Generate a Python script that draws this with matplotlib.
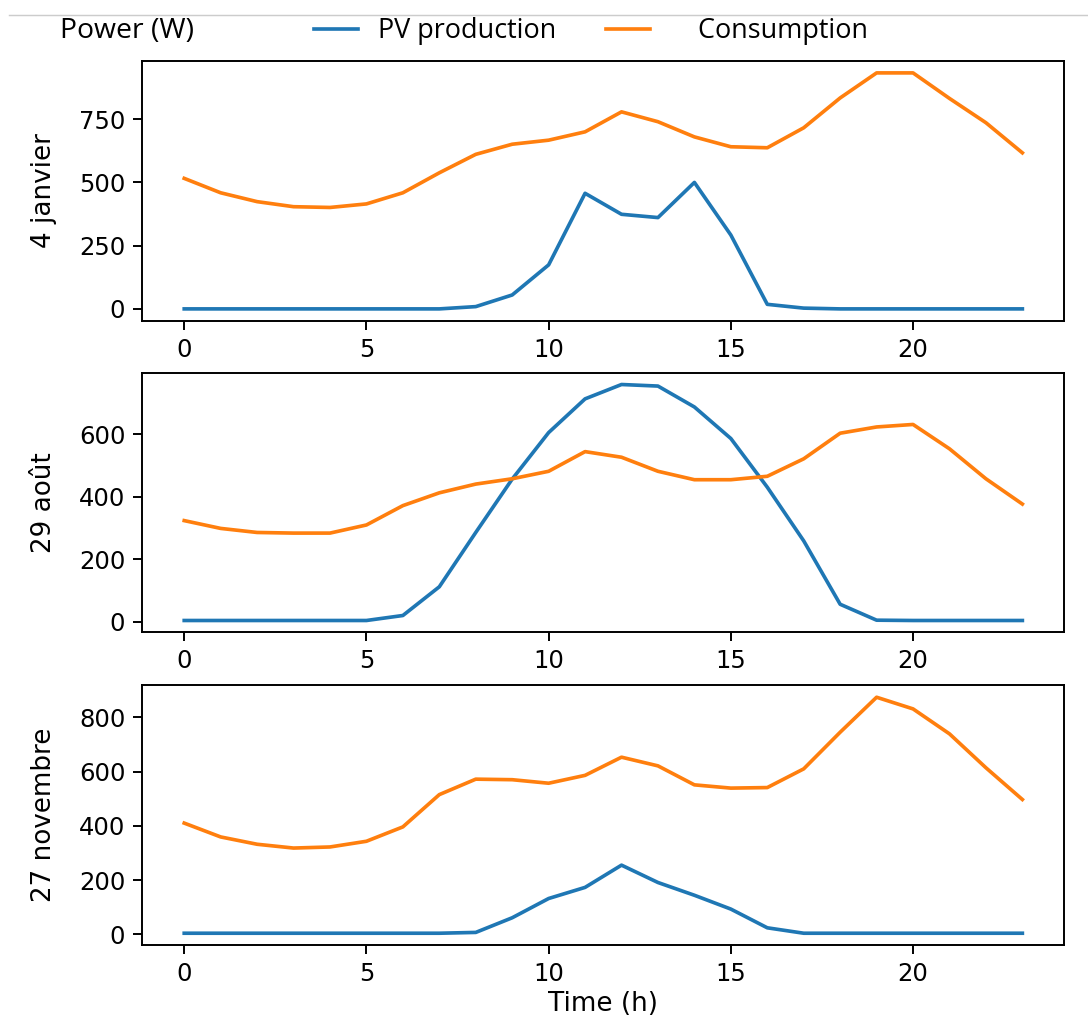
import numpy as np
import matplotlib.pyplot as plt
from matplotlib.lines import Line2D

plt.rcParams['font.family'] = ['DejaVu Sans']

hours = list(range(24))
days = ['4 janvier', '29 août', '27 novembre']

pv_jan = [0, 0, 0, 0, 0, 0, 0, 0, 9, 55, 174, 457, 374, 361, 500, 292, 18, 3, 0, 0, 0, 0, 0, 0]
cons_jan = [516, 459, 424, 404, 401, 415, 459, 538, 611, 651, 667, 700, 779, 740, 680, 641, 637, 716, 834, 933, 933, 832, 736, 617]

pv_aug = [4, 4, 4, 4, 4, 4, 20, 112, 286, 457, 606, 714, 760, 755, 688, 587, 431, 259, 56, 5, 4, 4, 4, 4]
cons_aug = [324, 299, 286, 284, 284, 310, 372, 413, 441, 458, 482, 545, 527, 482, 455, 455, 466, 522, 604, 624, 632, 554, 458, 377]

pv_nov = [4, 4, 4, 4, 4, 4, 4, 4, 7, 61, 132, 173, 255, 191, 144, 93, 24, 4, 4, 4, 4, 4, 4, 4]
cons_nov = [410, 359, 332, 318, 322, 343, 396, 515, 572, 570, 557, 586, 653, 621, 551, 539, 541, 610, 745, 874, 831, 739, 614, 497]

pv = [pv_jan, pv_aug, pv_nov]
cons = [cons_jan, cons_aug, cons_nov]

dpi = 175
fig = plt.figure(figsize=(1088 / dpi, 1020 / dpi), dpi=dpi)

bottoms = [0.6856, 0.3801, 0.0735]
axes = []
for i in range(3):
    ax = fig.add_axes([0.1308, bottoms[i], 0.8474, 0.2545])
    l1, = ax.plot(hours, pv[i], color='tab:blue', label='PV production')
    l2, = ax.plot(hours, cons[i], color='tab:orange', label='Consumption')
    ax.set_ylabel(days[i], fontsize=10.8, labelpad=9)
    axes.append(ax)

axes[0].set_yticks([0, 250, 500, 750])
axes[2].set_xlabel('Time (h)', fontsize=10.8, labelpad=2)
fig.align_ylabels(axes)

# header row
fig.text(60 / 1088, 1 - 31 / 1020, 'Power (W)', family='Open Sans', fontsize=11.7,
         va='center', ha='left')
fig.legend([l1, l2], ['PV production', '    Consumption'], loc='center left',
           bbox_to_anchor=(0.266, 1 - 31 / 1020), ncol=2, frameon=False,
           prop={'family': 'Open Sans', 'size': 11.1},
           handlelength=1.65, handletextpad=0.72, columnspacing=1.85)

fig.add_artist(Line2D([9 / 1088, 1], [1 - 15 / 1020] * 2, color='#cccccc', lw=0.6))

fig.savefig('out.png', dpi=dpi)
